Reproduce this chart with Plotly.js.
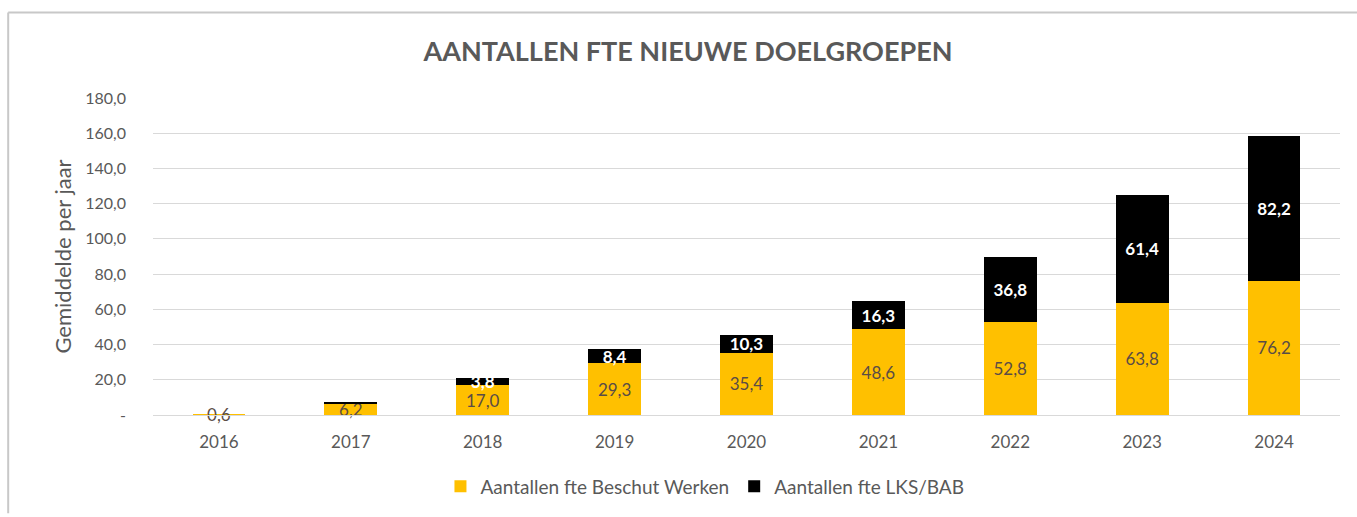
<!DOCTYPE html>
<html>
<head>
<meta charset="utf-8">
<script src="https://cdn.plot.ly/plotly-3.0.1.min.js"></script>
<style>html,body{margin:0;padding:0;background:#fff;}#chart{width:1357px;height:517px;}</style>
</head>
<body>
<div id="chart"></div>
<script>
const years = ['2016','2017','2018','2019','2020','2021','2022','2023','2024'];
const beschutWerken = [0.6, 6.2, 17.0, 29.3, 35.4, 48.6, 52.8, 63.8, 76.2];
const lksBab = [0, 1.3, 3.8, 8.4, 10.3, 16.3, 36.8, 61.4, 82.2];
const lksBabLabelShown = [false, false, true, true, true, true, true, true, true];
const yTickVals = [0, 20, 40, 60, 80, 100, 120, 140, 160, 180];
const yTickText = ['-', '20,0', '40,0', '60,0', '80,0', '100,0', '120,0', '140,0', '160,0', '180,0'];

const fmt = v => v.toFixed(1).replace('.', ',');
const FONT = 'Lato, "Open Sans", sans-serif';

const traces = [
  {
    type: 'bar', name: 'Aantallen fte Beschut Werken',
    x: years, y: beschutWerken,
    marker: {color: '#FFC000'},
    text: beschutWerken.map(fmt),
    textposition: 'inside', insidetextanchor: 'middle', constraintext: 'none',
    cliponaxis: false,
    textfont: {family: FONT, size: 17, color: '#5a4c46'},
    hoverinfo: 'x+y'
  },
  {
    type: 'bar', name: 'Aantallen fte LKS/BAB',
    x: years, y: lksBab,
    marker: {color: '#000000'},
    text: lksBab.map((v, i) => lksBabLabelShown[i] ? fmt(v) : ''),
    textposition: 'inside', insidetextanchor: 'middle', constraintext: 'none',
    cliponaxis: false,
    textfont: {family: FONT, size: 17, color: '#ffffff', weight: 'bold'},
    hoverinfo: 'x+y'
  }
];

const layout = {
  width: 1357, height: 517,
  margin: {l: 153, r: 17, t: 98, b: 98},
  paper_bgcolor: '#ffffff', plot_bgcolor: '#ffffff',
  barmode: 'stack', bargap: 0.6,
  font: {family: FONT, color: '#595959', size: 16},
  title: {
    text: '<b>AANTALLEN FTE NIEUWE DOELGROEPEN</b>',
    font: {family: FONT, size: 27, color: '#595959'},
    x: 0.507, xanchor: 'center', y: 0.9, yanchor: 'middle'
  },
  xaxis: {
    type: 'category',
    showgrid: false, zeroline: false,
    showline: true, linecolor: '#d9d9d9', linewidth: 1,
    ticks: '', ticklabelstandoff: 12,
    tickfont: {family: FONT, size: 17, color: '#595959'},
    fixedrange: true
  },
  yaxis: {
    range: [0, 180],
    tickvals: yTickVals, ticktext: yTickText,
    showgrid: true, gridcolor: '#d9d9d9', gridwidth: 1,
    zeroline: false, showline: false, ticks: '',
    ticklabelstandoff: 26,
    tickfont: {family: FONT, size: 16, color: '#595959'},
    title: {text: 'Gemiddelde per jaar', font: {family: FONT, size: 22, color: '#595959'}, standoff: 7},
    fixedrange: true
  },
  legend: {
    orientation: 'h', x: 0.465, xanchor: 'center', y: -0.225, yanchor: 'middle',
    font: {family: FONT, size: 19, color: '#595959'},
    traceorder: 'normal', itemwidth: 30
  },
  shapes: [
    {type: 'line', xref: 'paper', yref: 'paper', x0: -0.122, x1: 1.02, y0: 1.27, y1: 1.27, line: {color: '#c8c8c8', width: 2}},
    {type: 'line', xref: 'paper', yref: 'paper', x0: -0.122, x1: -0.122, y0: 1.27, y1: -0.31, line: {color: '#c8c8c8', width: 2}}
  ],
  showlegend: true
};

Plotly.newPlot('chart', traces, layout, {displayModeBar: false, staticPlot: true});
</script>
</body>
</html>
